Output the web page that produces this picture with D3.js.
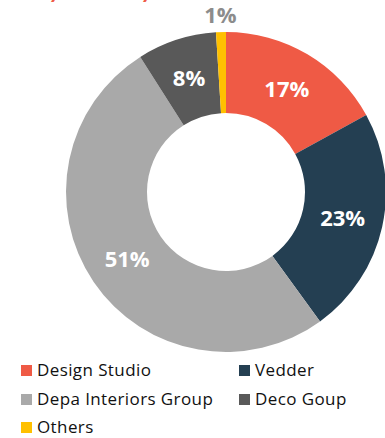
<!DOCTYPE html>
<html>
<head>
<meta charset="utf-8">
<script src="https://cdn.jsdelivr.net/npm/d3@7"></script>
<style>
  body { margin: 0; background: #fff; }
  svg { display: block; }
</style>
</head>
<body>
<script>
// chart data
const companies = ["Design Studio", "Vedder", "Depa Interiors Group", "Deco Goup", "Others"];
const shares = [17, 23, 51, 8, 1];
const colors = ["#EF5A45", "#243F52", "#A9A9A9", "#595959", "#FFC000"];
const titleText = "Industry Share by Brand";

const width = 385, height = 438;
const cx = 226, cy = 192;
const outerR = 160, innerR = 79;

const svg = d3.select("body").append("svg")
    .attr("width", width)
    .attr("height", height);

// title, mostly cropped off the top
const title = svg.append("text")
    .attr("y", -2)
    .style("font-family", "Lato, 'Open Sans', sans-serif")
    .style("font-weight", "bold")
    .style("font-style", "italic")
    .style("font-size", "24px")
    .style("fill", "#EF5A45")
    .text(titleText);
const yOffset = title.node().getSubStringLength(0, 7);
title.attr("x", 50 - yOffset);

const color = d3.scaleOrdinal().domain(companies).range(colors);

const pie = d3.pie().sort(null).value(d => d.value);
const data = companies.map((c, i) => ({ name: c, value: shares[i] }));
const arcs = pie(data);

const arc = d3.arc().innerRadius(innerR).outerRadius(outerR);
const outerArc = d3.arc().innerRadius(177).outerRadius(177);

const g = svg.append("g").attr("transform", "translate(" + cx + "," + cy + ")");

g.selectAll("path")
    .data(arcs)
    .enter()
    .append("path")
    .attr("d", arc)
    .attr("fill", d => color(d.data.name));

// percent labels
g.selectAll("text")
    .data(arcs)
    .enter()
    .append("text")
    .attr("transform", d => "translate(" + (d.data.value < 3 ? outerArc.centroid(d) : arc.centroid(d)) + ")")
    .attr("text-anchor", "middle")
    .attr("dy", "0.36em")
    .style("font-family", "'Open Sans', sans-serif")
    .style("font-weight", "bold")
    .style("font-size", "22px")
    .style("fill", d => d.data.value < 3 ? "#8C8C8C" : "#fff")
    .text(d => d.data.value + "%");

// legend
const legend = svg.append("g").attr("class", "legend");
const colX = [21, 239], rowY = [370, 399, 427];

const items = legend.selectAll("g")
    .data(companies)
    .enter()
    .append("g")
    .attr("transform", (d, i) => "translate(" + colX[i % 2] + "," + rowY[Math.floor(i / 2)] + ")");

items.append("rect")
    .attr("x", 0)
    .attr("y", -5)
    .attr("width", 11)
    .attr("height", 11)
    .attr("fill", d => color(d));

items.append("text")
    .attr("x", 16)
    .attr("dy", "0.35em")
    .style("font-family", "'Open Sans', sans-serif")
    .style("font-size", "17px")
    .style("letter-spacing", "0.4px")
    .style("fill", "#111")
    .text(d => d);
</script>
</body>
</html>
